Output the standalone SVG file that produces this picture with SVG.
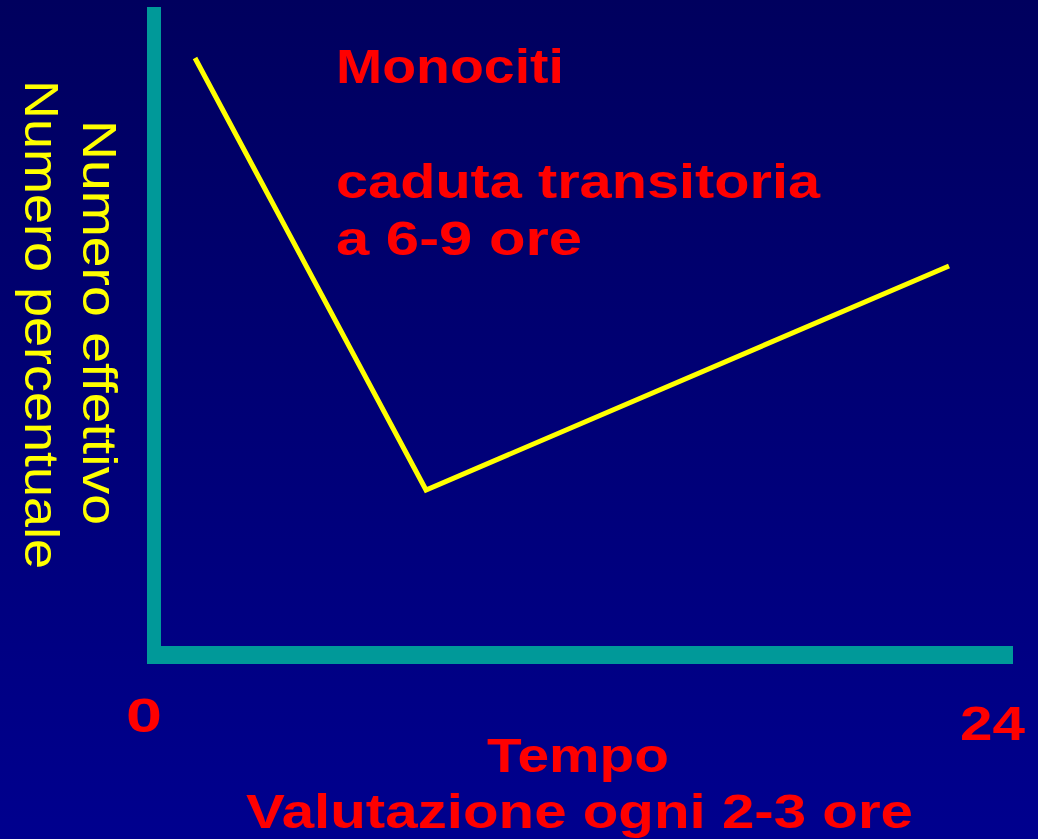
<svg xmlns="http://www.w3.org/2000/svg" width="1038" height="839" viewBox="0 0 1038 839">
  <defs>
    <linearGradient id="bg" x1="0" y1="0" x2="0" y2="1">
      <stop offset="0" stop-color="#00005E"/>
      <stop offset="1" stop-color="#00008E"/>
    </linearGradient>
    <style>
      .red { fill: #FF0000; font-family: "Liberation Sans", Arial, sans-serif; font-weight: bold; font-size: 49px; }
      .yel { fill: #FFFF00; font-family: "Liberation Sans", Arial, sans-serif; font-size: 49px; }
      .axis { fill: #009999; }
    </style>
  </defs>
  <rect width="1038" height="839" fill="url(#bg)"/>
  <g id="axes">
    <rect class="axis" x="147" y="7" width="14" height="657"/>
    <rect class="axis" x="147" y="646" width="866" height="18"/>
  </g>
  <g id="connectors">
    <polyline points="195,58 426,490 949,266" fill="none" stroke="#FFFF00" stroke-width="5" stroke-linejoin="miter"/>
  </g>
  <g id="title">
    <text class="red" x="336" y="83" textLength="228" lengthAdjust="spacingAndGlyphs">Monociti</text>
    <text class="red" x="336" y="198" textLength="484" lengthAdjust="spacingAndGlyphs">caduta transitoria</text>
    <text class="red" x="336" y="255" textLength="246" lengthAdjust="spacingAndGlyphs">a 6-9 ore</text>
  </g>
  <g id="y-labels">
    <text class="yel" transform="translate(83,120) rotate(90)" textLength="405" lengthAdjust="spacingAndGlyphs">Numero effettivo</text>
    <text class="yel" transform="translate(25,80) rotate(90)" textLength="489" lengthAdjust="spacingAndGlyphs">Numero percentuale</text>
  </g>
  <g id="x-labels">
    <text class="red" x="126" y="732" textLength="36" lengthAdjust="spacingAndGlyphs">0</text>
    <text class="red" x="960" y="740" textLength="65" lengthAdjust="spacingAndGlyphs">24</text>
    <text class="red" x="487" y="772" textLength="182" lengthAdjust="spacingAndGlyphs">Tempo</text>
    <text class="red" x="246" y="828" textLength="667" lengthAdjust="spacingAndGlyphs">Valutazione ogni 2-3 ore</text>
  </g>
</svg>
